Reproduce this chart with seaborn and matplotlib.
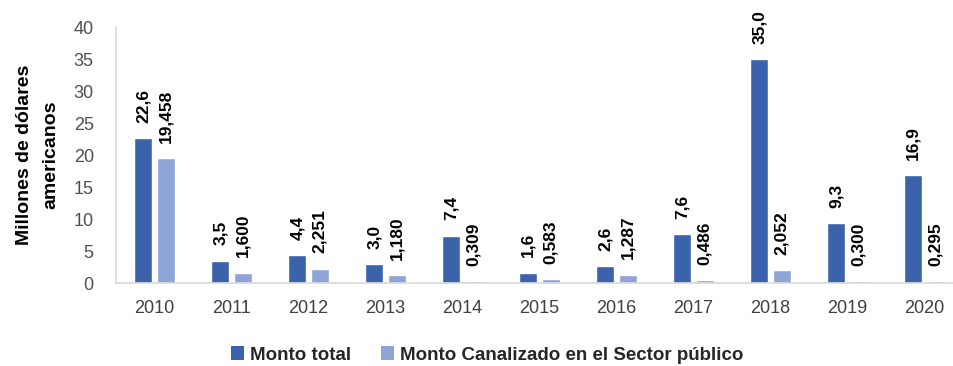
import matplotlib
matplotlib.use("Agg")
import matplotlib.pyplot as plt
import seaborn as sns
import pandas as pd
from matplotlib.ticker import FixedLocator
from matplotlib.patches import Patch

# Data
years = ["2010", "2011", "2012", "2013", "2014", "2015", "2016", "2017", "2018", "2019", "2020"]
monto_total = [22.6, 3.5, 4.4, 3.0, 7.4, 1.6, 2.6, 7.6, 35.0, 9.3, 16.9]
monto_publico = [19.458, 1.600, 2.251, 1.180, 0.309, 0.583, 1.287, 0.486, 2.052, 0.300, 0.295]
series_names = ["Monto total", "Monto Canalizado en el Sector público"]
y_ticks = [0, 5, 10, 15, 20, 25, 30, 35, 40]

df = pd.DataFrame({
    "Año": years * 2,
    "Valor": monto_total + monto_publico,
    "Serie": [series_names[0]] * len(years) + [series_names[1]] * len(years),
})

sns.set_theme(style="white")
plt.rcParams["font.family"] = ["Liberation Sans", "DejaVu Sans"]

colors = ["#3B63AC", "#8FA5D8"]
fig = plt.figure(figsize=(9.54, 3.66), dpi=100)
ax = fig.add_axes([116 / 954, 83 / 366, 847 / 954, 256 / 366])

sns.barplot(data=df, x="Año", y="Valor", hue="Serie", hue_order=series_names,
            palette=colors, width=0.58, gap=0.2, dodge=True, ax=ax,
            legend=False, saturation=1)

# Value labels on top of every bar
fmt_total = [f"{v:.1f}".replace(".", ",") for v in monto_total]
fmt_pub = [f"{v:.3f}".replace(".", ",") for v in monto_publico]
for cont, labels in zip(ax.containers, [fmt_total, fmt_pub]):
    ax.bar_label(cont, labels=labels, rotation=90, padding=11,
                 fontsize=12.5, fontweight="bold", color="black")

ax.set_xlim(-0.5, len(years) - 0.5)
ax.set_ylim(0, 40)
ax.set_yticks(y_ticks)
ax.set_xlabel("")
ax.set_ylabel("Millones de dólares\namericanos", fontsize=14, fontweight="bold",
              color="black", linespacing=1.75, labelpad=10)

spine_col = "#D9D9D9"
for s in ["top", "right"]:
    ax.spines[s].set_visible(False)
for s in ["left", "bottom"]:
    ax.spines[s].set_color(spine_col)
    ax.spines[s].set_linewidth(1.2)

ax.xaxis.set_minor_locator(FixedLocator([i - 0.5 for i in range(len(years) + 1)]))
ax.tick_params(axis="x", which="major", length=0, pad=12, labelsize=13, labelcolor="#404040")
ax.tick_params(axis="x", which="minor", length=5, width=1.2, color=spine_col, direction="out")
ax.tick_params(axis="y", which="major", length=4, width=1.2, color=spine_col, direction="out",
               pad=12, labelsize=13, labelcolor="#505050")

handles = [Patch(facecolor=c, edgecolor="none") for c in colors]
fig.legend(handles, series_names, loc="center", bbox_to_anchor=(487 / 954, 1 - 355 / 366),
           ncol=2, frameon=False, handlelength=0.7, handleheight=0.7, handletextpad=0.3,
           columnspacing=1.6, prop={"size": 13.5, "weight": "bold"})

fig.savefig("out.png", dpi=100)
